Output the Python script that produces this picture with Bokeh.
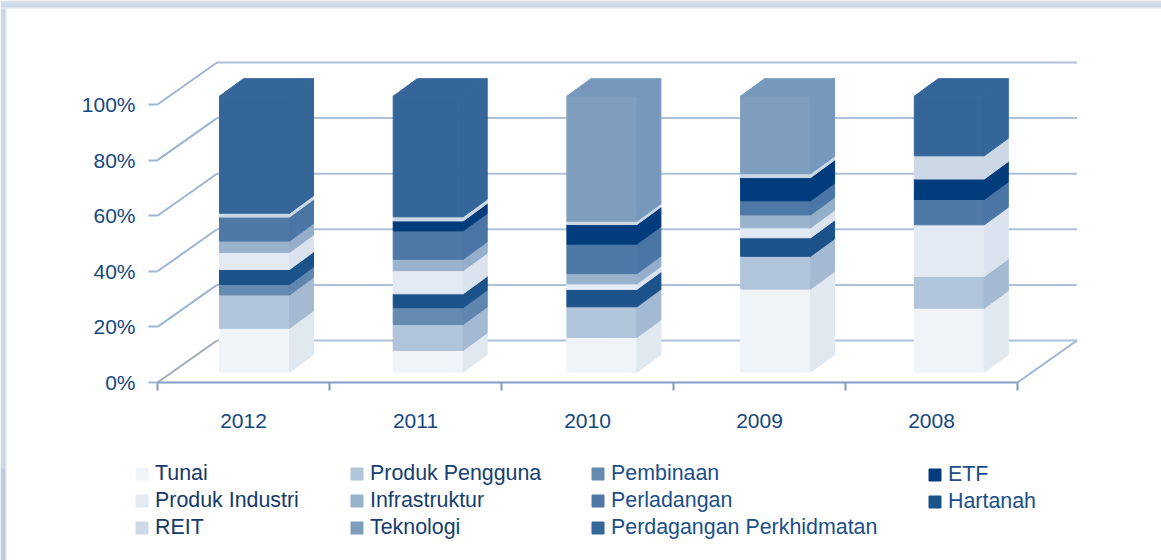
from bokeh.embed import file_html
from bokeh.resources import INLINE
from bokeh.plotting import figure
from bokeh.models import (ColumnDataSource, FixedTicker, Legend, LegendItem, LinearAxis, Range1d)

years = ["2012", "2011", "2010", "2009", "2008"]
tunai = [15.9, 7.9, 12.6, 30.1, 23.2]
produk_pengguna = [12.1, 9.4, 11.1, 11.9, 11.5]
pembinaan = [3.8, 6.1, 0, 0, 0]
hartanah = [5.4, 5.0, 6.3, 6.7, 0]
produk_industri = [6.2, 8.4, 2.0, 3.6, 18.7]
infrastruktur = [4.1, 4.1, 3.7, 4.7, 0]
perladangan = [8.7, 10.3, 10.7, 5.1, 9.2]
etf = [0, 3.6, 7.1, 8.4, 7.4]
reit = [1.4, 1.5, 1.2, 1.4, 8.4]
teknologi = [0, 0, 45.3, 28.1, 0]
perdagangan = [42.4, 43.7, 0, 0, 21.6]

# stacking order, bottom to top: (name, values, front colour, side colour)
stack = [
    ("Tunai", tunai, "#f0f4f8", "#e0e8f0"),
    ("Produk Pengguna", produk_pengguna, "#b0c4da", "#a4bad2"),
    ("Pembinaan", pembinaan, "#658ab0", "#5f86ae"),
    ("Hartanah", hartanah, "#1a5289", "#1a5289"),
    ("Produk Industri", produk_industri, "#e3eaf3", "#dbe3ee"),
    ("Infrastruktur", infrastruktur, "#9ab3cd", "#94aecb"),
    ("Perladangan", perladangan, "#4e78a5", "#4a76a5"),
    ("ETF", etf, "#023c7c", "#023c7c"),
    ("REIT", reit, "#ccd8e6", "#ccd8e6"),
    ("Teknologi", teknologi, "#7f9ebd", "#7598bc"),
    ("Perdagangan Perkhidmatan", perdagangan, "#356699", "#356699"),
]
legend_columns = [
    ["Tunai", "Produk Industri", "REIT"],
    ["Produk Pengguna", "Infrastruktur", "Teknologi"],
    ["Pembinaan", "Perladangan", "Perdagangan Perkhidmatan"],
    ["ETF", "Hartanah"],
]
y_ticks = [0, 20, 40, 60, 80, 100]

W, H = 1161, 560
AX_LEFT, AX_BOTTOM = 157, 382       # page pixels of x=-0.5, y=0
PX_X, PX_Y = 172.0, 2.78            # pixels per data unit
WALL_DX, WALL_DY = 59.5 / PX_X, 42 / PX_Y
BAR_W = 70 / PX_X
BAR_DX, BAR_DY = 24 / PX_X, 17.5 / PX_Y
BAR_X0, BAR_STEP = -24 / PX_X, 173.7 / PX_X
BAR_BASE, BAR_SCALE = 10.3 / PX_Y, 276 / 278
X_L, X_R = -0.5, len(years) - 0.5

x_min = X_L - AX_LEFT / PX_X
x_max = x_min + W / PX_X
y_min = -(H - AX_BOTTOM) / PX_Y
y_max = AX_BOTTOM / PX_Y
p = figure(width=W, height=H, output_backend="svg", toolbar_location=None,
           x_range=Range1d(x_min, x_max), y_range=Range1d(y_min, y_max),
           x_axis_type=None, y_axis_type=None,
           min_border_left=0, min_border_right=0, min_border_top=0, min_border_bottom=0)
p.outline_line_color = None
p.background_fill_color = "white"
p.border_fill_color = "white"

# window-like band along the top and left edges
top_band = ["#cfdae7", "#cad7e5", "#c6d3e3", "#c2d0e1", "#bfcde0", "#bccbdf", "#bccbdf", "#dbe5f0"]
for k, c in enumerate(top_band):
    p.quad(left=[x_min], right=[x_max], top=[y_max - k / PX_Y], bottom=[y_max - (k + 1) / PX_Y],
           fill_color=c, line_color=None)
left_upper = ["#c3d1e1", "#bfcee0", "#bccbdf", "#b9c9dd", "#bbcbde", "#dbe5f0"]
left_lower = ["#a9bcd5", "#a5b9d3", "#a3b7d2", "#a3b7d2", "#a8bbd5", "#d5e0ee"]
for k, (cu, cl) in enumerate(zip(left_upper, left_lower)):
    p.quad(left=[x_min + k / PX_X], right=[x_min + (k + 1) / PX_X], top=[y_max - 8 / PX_Y],
           bottom=[y_max - 468 / PX_Y], fill_color=cu, line_color=None)
    p.quad(left=[x_min + k / PX_X], right=[x_min + (k + 1) / PX_X], top=[y_max - 468 / PX_Y],
           bottom=[y_min], fill_color=cl, line_color=None)

WALL = "#adc1da"
# back wall lines and left wall diagonals
p.segment(x0=[X_L + WALL_DX] * len(y_ticks), x1=[X_R + WALL_DX] * len(y_ticks),
          y0=[t + WALL_DY for t in y_ticks], y1=[t + WALL_DY for t in y_ticks],
          line_color=WALL, line_width=2)
p.segment(x0=[X_L] * len(y_ticks), x1=[X_L + WALL_DX] * len(y_ticks),
          y0=y_ticks, y1=[t + WALL_DY for t in y_ticks],
          line_color=["#a3aab5"] + ["#9db5d2"] * 5, line_width=2)
p.segment(x0=[X_R], x1=[X_R + WALL_DX], y0=[0], y1=[WALL_DY], line_color="#9db5d2", line_width=2)

# stacked pseudo-3D bars
renderers = {}
cumulative = [0.0] * len(years)
tops = [sum(s[1][i] for s in stack) for i in range(len(years))]
for name, vals, front, side in stack:
    xs, ys, fills = [], [], []
    for i, v in enumerate(vals):
        if v <= 0:
            continue
        lo, hi = cumulative[i], cumulative[i] + v
        cumulative[i] = hi
        x0 = BAR_X0 + i * BAR_STEP
        x1 = x0 + BAR_W
        y0 = BAR_BASE + lo * BAR_SCALE
        y1 = BAR_BASE + hi * BAR_SCALE
        xs.append([x1, x1 + BAR_DX, x1 + BAR_DX, x1])
        ys.append([y0, y0 + BAR_DY, y1 + BAR_DY, y1]); fills.append(side)
        if hi >= tops[i] - 1e-6:
            xs.append([x0, x1, x1 + BAR_DX, x0 + BAR_DX])
            ys.append([y1, y1, y1 + BAR_DY, y1 + BAR_DY]); fills.append(side)
        xs.append([x0, x1, x1, x0]); ys.append([y0, y0, y1, y1]); fills.append(front)
    # front face first in the table, so the legend swatch takes the front colour
    xs, ys, fills = xs[::-1], ys[::-1], fills[::-1]
    src = ColumnDataSource(dict(xs=xs, ys=ys, fill=fills))
    renderers[name] = p.patches("xs", "ys", source=src, fill_color="fill", line_color="fill", line_width=1)

# axes
TEXT = "#154780"
ax_y = LinearAxis(ticker=FixedTicker(ticks=y_ticks), bounds=(0, 100), fixed_location=X_L)
ax_y.major_label_overrides = {t: f"{t}%" for t in y_ticks}
ax_y.major_tick_out, ax_y.major_tick_in, ax_y.minor_tick_out, ax_y.minor_tick_in = 9, 0, 0, 0
ax_y.major_tick_line_color = "#9db5d2"
ax_y.major_tick_line_width = 2
ax_y.axis_line_color = None
ax_y.major_label_standoff = 13
ax_y.major_label_text_font = "Liberation Sans"
ax_y.major_label_text_font_size = "21px"
ax_y.major_label_text_color = TEXT
p.add_layout(ax_y, "left")

ax_x = LinearAxis(ticker=FixedTicker(ticks=list(range(len(years))),
                                     minor_ticks=[i - 0.5 for i in range(len(years) + 1)]),
                  bounds=(X_L, X_R), fixed_location=0)
ax_x.major_label_overrides = {i: y for i, y in enumerate(years)}
ax_x.major_tick_out, ax_x.major_tick_in = 0, 0
ax_x.minor_tick_out, ax_x.minor_tick_in = 8, 0
ax_x.minor_tick_line_color = "#7f9abb"
ax_x.minor_tick_line_width = 2
ax_x.axis_line_color = "#7f9fc4"
ax_x.axis_line_width = 2
ax_x.major_label_standoff = 23
ax_x.major_label_text_font = "Liberation Sans"
ax_x.major_label_text_font_size = "21px"
ax_x.major_label_text_color = TEXT
p.add_layout(ax_x, "below")

# legend columns
col_x = [134, 349, 590, 927]
col_text = ["#15396a", "#163e70", "#1a4f8a", "#1a4f8a"]
ROW_H, ROW_GAP, LEG_TOP = 24, 2, 464
for cx, names, color in zip(col_x, legend_columns, col_text):
    n = len(names)
    leg = Legend(items=[LegendItem(label=t, renderers=[renderers[t]], index=0) for t in names],
                 location=(cx, H - LEG_TOP - (n * ROW_H + (n - 1) * ROW_GAP)), orientation="vertical",
                 background_fill_alpha=0, border_line_alpha=0, padding=0, margin=0,
                 spacing=ROW_GAP, glyph_width=15, glyph_height=15, label_height=20,
                 label_standoff=6, label_text_font="Liberation Sans",
                 label_text_font_size="21.4px", label_text_color=color)
    p.add_layout(leg, "center")

open("out.html", "w").write(file_html(p, INLINE))
